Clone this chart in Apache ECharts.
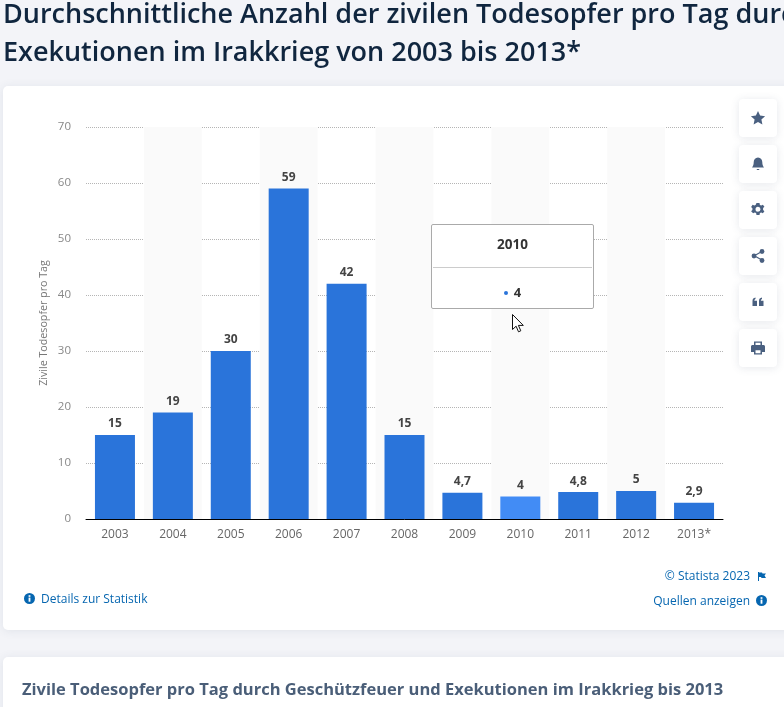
<!DOCTYPE html>
<html lang="de">
<head>
<meta charset="utf-8">
<title>Zivile Todesopfer pro Tag</title>
<script src="https://cdn.jsdelivr.net/npm/echarts@6/dist/echarts.min.js"></script>
<style>
html,body{margin:0;padding:0;width:784px;height:707px;overflow:hidden;background:#f3f4f8;}
.card{position:absolute;left:3px;width:800px;background:#fff;border-radius:5px;box-shadow:0 1px 10px rgba(60,75,110,.10);}
#chart{position:absolute;left:0;top:0;width:784px;height:707px;}
.btn{position:absolute;left:739px;width:38px;height:38px;background:#fff;border-radius:4px;box-shadow:0 1px 8px rgba(60,75,110,.13);}
.btn svg{position:absolute;left:11px;top:11px;width:16px;height:16px;fill:#4a6080;}
.ov{position:absolute;}
</style>
</head>
<body>
<div class="card" style="top:86px;height:544px"></div>
<div class="card" style="top:657px;height:80px"></div>
<div id="chart"></div>
<div class="btn" style="top:99px"><svg viewBox="0 0 16 16"><path d="M8 1l2.100 4.600 5 .6-3.700 3.300 1 4.900L8 11.900l-4.400 2.500 1-4.900L.9 6.200l5-.6z"/></svg></div>
<div class="btn" style="top:145px"><svg viewBox="0 0 16 16"><path d="M8 1.500c2.800 0 4.300 2.200 4.300 4.800 0 2.500.7 4 1.700 5.200H2c1-1.200 1.700-2.700 1.700-5.200 0-2.600 1.500-4.800 4.300-4.800zM6.500 13h3l-.6 1H7.100z"/></svg></div>
<div class="btn" style="top:191px"><svg viewBox="0 0 16 16"><path fill-rule="evenodd" d="M6.500 1h3l.4 1.900 1.300.6 1.700-.8 1.500 2.100-1.300 1.300v1.800l1.300 1.300-1.500 2.100-1.700-.8-1.300.6-.4 1.900h-3l-.4-1.900-1.300-.6-1.700.8L1.100 9.300l1.300-1.300V6.200L1.100 4.900l1.500-2.100 1.700.8 1.300-.6zM8 4.700a2.500 2.500 0 1 0 0 5 2.500 2.500 0 0 0 0-5z"/></svg></div>
<div class="btn" style="top:237px"><svg viewBox="0 0 16 16"><circle cx="12" cy="3.500" r="2.400"/><circle cx="12" cy="12.500" r="2.400"/><circle cx="4" cy="8" r="2.400"/><path d="M4 7.300l8-4.500.6 1-8 4.500zM4.600 7.300l8 4.500-.6 1-8-4.500z"/></svg></div>
<div class="btn" style="top:283px"><svg viewBox="0 0 16 16"><path d="M2.500 7c0-2 1-3 3-3.400v1.500c-.8.300-1.100.900-1.100 1.600h2.600V12H2.500zM9 7c0-2 1-3 3-3.400v1.500c-.8.300-1.100.900-1.100 1.600h2.600V12H9z"/></svg></div>
<div class="btn" style="top:329px"><svg viewBox="0 0 16 16"><path fill-rule="evenodd" d="M4 1.500h8v3.500h1.500c.8 0 1.500.7 1.500 1.500V12h-3v2.500H4V12H1V6.500C1 5.700 1.700 5 2.500 5H4zm1.500 1.300V5h5V2.800zm0 7.500v2.900h5v-2.900z"/></svg></div>
<svg class="ov" style="left:24px;top:593px" width="11" height="11" viewBox="0 0 12 12"><circle cx="6" cy="6" r="6" fill="#0666b0"/><rect x="5" y="5" width="2" height="4.500" fill="#fff"/><rect x="5" y="2.400" width="2" height="1.800" fill="#fff"/></svg>
<svg class="ov" style="left:756px;top:595px" width="11" height="11" viewBox="0 0 12 12"><circle cx="6" cy="6" r="6" fill="#0666b0"/><rect x="5" y="5" width="2" height="4.500" fill="#fff"/><rect x="5" y="2.400" width="2" height="1.800" fill="#fff"/></svg>
<svg class="ov" style="left:758px;top:572px" width="8" height="9" viewBox="0 0 8 9"><path d="M0 0h1v9H0zM1 .5h3l.5 1H8L6.500 3.500 8 6H3.500L3 5H1z" fill="#0666b0"/></svg>
<svg class="ov" style="left:512px;top:314px;z-index:20" width="14" height="20" viewBox="0 0 14 20"><path d="M.5.500v15l3.600-3.300 2.400 5.600 2.300-1-2.400-5.400h4.900z" fill="#fff" stroke="#111" stroke-width="1"/></svg>
<script>
var years = ['2003','2004','2005','2006','2007','2008','2009','2010','2011','2012','2013*'];
var victims = [15,19,30,59,42,15,4.7,4,4.8,5,2.9];
var yTicks = {min:0,max:70,interval:10};
var hoverIndex = 7;
var blue='#2a74da', hover='#428cf5', link='#0666b0';
var FF='"Open Sans", sans-serif';
var deNum=function(v){return String(v).replace('.',',');};
var chart=echarts.init(document.getElementById('chart'),null,{renderer:'canvas'});
chart.setOption({
 backgroundColor:'transparent',
 animation:false,
 textStyle:{fontFamily:FF},
 title:[
  {text:'Durchschnittliche Anzahl der zivilen Todesopfer pro Tag durch\nExekutionen im Irakkrieg von 2003 bis 2013*',left:3,top:-4,padding:0,
   textStyle:{fontFamily:FF,fontSize:27,fontWeight:600,color:'#10263f',lineHeight:38}},
  {text:'Zivile Todesopfer pro Tag durch Geschützfeuer und Exekutionen im Irakkrieg bis 2013',left:22,top:680,padding:0,
   textStyle:{fontFamily:FF,fontSize:16.500,fontWeight:700,color:'#4a5e78',lineHeight:20}}
 ],
 grid:{left:86,right:61,top:127,height:392,containLabel:false},
 xAxis:{type:'category',data:years,
  axisLine:{lineStyle:{color:'#000',width:1}},axisTick:{show:false},
  axisLabel:{interval:0,color:'#666',fontSize:12,margin:10,fontFamily:FF},
  splitArea:{show:true,interval:0,areaStyle:{color:['rgba(255,255,255,0)','#fafafa']}}},
 yAxis:{type:'value',min:yTicks.min,max:yTicks.max,interval:yTicks.interval,
  name:'Zivile Todesopfer pro Tag',nameLocation:'middle',nameGap:37,nameRotate:90,nameMoveOverlap:false,
  nameTextStyle:{color:'#777',fontSize:10.700,fontFamily:FF},
  axisLine:{show:false},axisTick:{show:false},
  axisLabel:{color:'#888',fontSize:11.500,margin:15,fontFamily:FF,padding:[4,0,0,0]},
  splitLine:{lineStyle:{type:'dotted',color:'#b5b5b5',width:1}}},
 tooltip:{trigger:'item',alwaysShowContent:true,showDelay:0,transitionDuration:0,
  position:[431,224],padding:0,backgroundColor:'#fff',borderColor:'#aaa',borderWidth:1,
  extraCssText:'border-radius:2px;box-shadow:none;width:161px;height:83px;',
  formatter:function(p){
   return '<div style="font:700 13.500px '+'\'Open Sans\''+';color:#333;text-align:center;height:42px;line-height:38px;border-bottom:1px solid #ccc;margin:0 1px">'+p.name+'</div>'+
   '<div style="font:700 13px '+'\'Open Sans\''+';color:#333;text-align:center;line-height:48px"><span style="display:inline-block;width:4px;height:4px;border-radius:50%;background:'+blue+';vertical-align:2px;margin-right:6px"></span>'+deNum(p.value)+'</div>';
  }},
 series:[{type:'bar',barWidth:40,
  data:victims.map(function(v,i){return i===hoverIndex?{value:v,itemStyle:{color:hover}}:v;}),
  itemStyle:{color:blue},
  label:{show:true,position:'top',distance:5,color:'#444',fontFamily:FF,fontWeight:700,fontSize:12,
   formatter:function(p){return deNum(p.value);}}
 }],
 graphic:[
  {type:'text',left:41,top:594,style:{text:'Details zur Statistik',fill:link,font:'12px "Open Sans"'}},
  {type:'text',right:34,top:571,style:{text:'© Statista 2023',fill:link,font:'12px "Open Sans"'}},
  {type:'text',right:34,top:596,style:{text:'Quellen anzeigen',fill:link,font:'12px "Open Sans"'}}
 ]
});
chart.dispatchAction({type:'showTip',seriesIndex:0,dataIndex:hoverIndex});
</script>
</body>
</html>
